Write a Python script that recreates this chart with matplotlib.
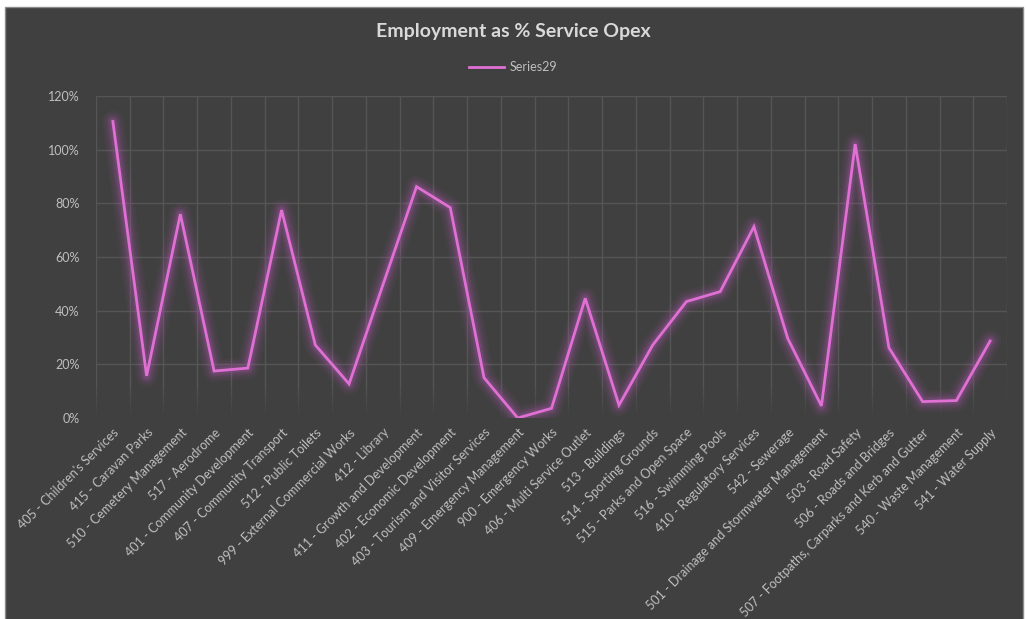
import matplotlib
matplotlib.use("Agg")
import matplotlib.pyplot as plt
from matplotlib.patches import Rectangle
from matplotlib.lines import Line2D
from matplotlib.ticker import FuncFormatter, MultipleLocator
import numpy as np

categories = [
    "405 - Children's Services",
    "415 - Caravan Parks",
    "510 - Cemetery Management",
    "517 - Aerodrome",
    "401 - Community Development",
    "407 - Community Transport",
    "512 - Public Toilets",
    "999 - External Commercial Works",
    "412 - Library",
    "411 - Growth and Development",
    "402 - Economic Development",
    "403 - Tourism and Visitor Services",
    "409 - Emergency Management",
    "900 - Emergency Works",
    "406 - Multi Service Outlet",
    "513 - Buildings",
    "514 - Sporting Grounds",
    "515 - Parks and Open Space",
    "516 - Swimming Pools",
    "410 - Regulatory Services",
    "542 - Sewerage",
    "501 - Drainage and Stormwater Management",
    "503 - Road Safety",
    "506 - Roads and Bridges",
    "507 - Footpaths, Carparks and Kerb and Gutter",
    "540 - Waste Management",
    "541 - Water Supply",
]
series29 = [110.5, 15.7, 76.0, 17.5, 18.6, 77.5, 27.2, 12.7, 49.5, 86.2, 78.4,
            15.0, 0.0, 3.6, 44.6, 4.8, 27.2, 43.4, 47.1, 71.3, 29.7, 4.5,
            102.1, 26.2, 6.1, 6.5, 28.7]
series_name = "Series29"
title = "Employment as % Service Opex"

BG = "#404040"
LINE = "#e070d4"
GLOW = "#b058b0"
TXT = "#bfbfbf"
GRID = "#555555"
FONT = ["Lato", "DejaVu Sans"]

W, H = 1026, 619
fig = plt.figure(figsize=(W / 100, H / 100), dpi=100, facecolor="white")
# dark chart area with border
bgax = fig.add_axes([0, 0, 1, 1], zorder=-10)
bgax.set_xlim(0, W)
bgax.set_ylim(H, 0)
bgax.axis("off")
bgax.add_patch(Rectangle((5, 7), 1023 - 5, H - 7 + 2, facecolor=BG,
                         edgecolor="#8c8c8c", linewidth=1.0))

ax = fig.add_axes([96 / W, 1 - 418 / H, (1007 - 96) / W, (418 - 96) / H])
ax.patch.set_alpha(0)
n = len(categories)
x = np.arange(n)
ax.set_xlim(-0.5, n - 0.5)
ax.set_ylim(0, 120)

# horizontal gridlines
for yv in range(20, 121, 20):
    ax.axhline(yv, color=GRID, linewidth=1.0, zorder=1)
# vertical gridlines at category boundaries, fading near bottom
for b in np.arange(-0.5, n + 0.5, 1.0):
    ax.plot([b, b], [12, 120], color=GRID, linewidth=1.0, zorder=1)
    steps = 12
    for k in range(steps):
        y0 = 12 * k / steps
        y1 = 12 * (k + 1) / steps
        ax.plot([b, b], [y0, y1], color=GRID, linewidth=1.0,
                alpha=(k + 1) / (steps + 1), zorder=1, solid_capstyle="butt")

# glow
for lw, a in [(16, 0.05), (13, 0.07), (10, 0.09), (7.5, 0.12), (5, 0.18)]:
    ax.plot(x, series29, color=GLOW, linewidth=lw, alpha=a, zorder=2,
            solid_joinstyle="round", solid_capstyle="round")
ax.plot(x, series29, color=LINE, linewidth=2.0, zorder=3,
        solid_joinstyle="miter")

for s in ax.spines.values():
    s.set_visible(False)
ax.yaxis.set_major_locator(MultipleLocator(20))
ax.yaxis.set_major_formatter(FuncFormatter(lambda v, p: f"{v:.0f}%"))
ax.tick_params(axis="y", length=0, pad=12, labelcolor=TXT, labelsize=9)
ax.tick_params(axis="x", length=0, pad=6, labelcolor=TXT, labelsize=9)
for t in ax.get_yticklabels():
    t.set_family(FONT)
ax.set_xticks(x)
ax.set_xticklabels(categories, rotation=45, ha="right", va="top",
                   rotation_mode="anchor", family=FONT)

fig.text(0.5, 1 - 32 / H, title, ha="center", va="center", fontsize=14,
         fontweight="bold", color="#d9d9d9", family=FONT)
leg = fig.legend([Line2D([0], [0], color=LINE, linewidth=2.0)], [series_name],
                 loc="center", bbox_to_anchor=(0.5, 1 - 67 / H), frameon=False,
                 prop={"family": FONT, "size": 9}, labelcolor=TXT,
                 handlelength=2.8, handletextpad=0.4)

fig.savefig("out.png", dpi=100, facecolor="white")
